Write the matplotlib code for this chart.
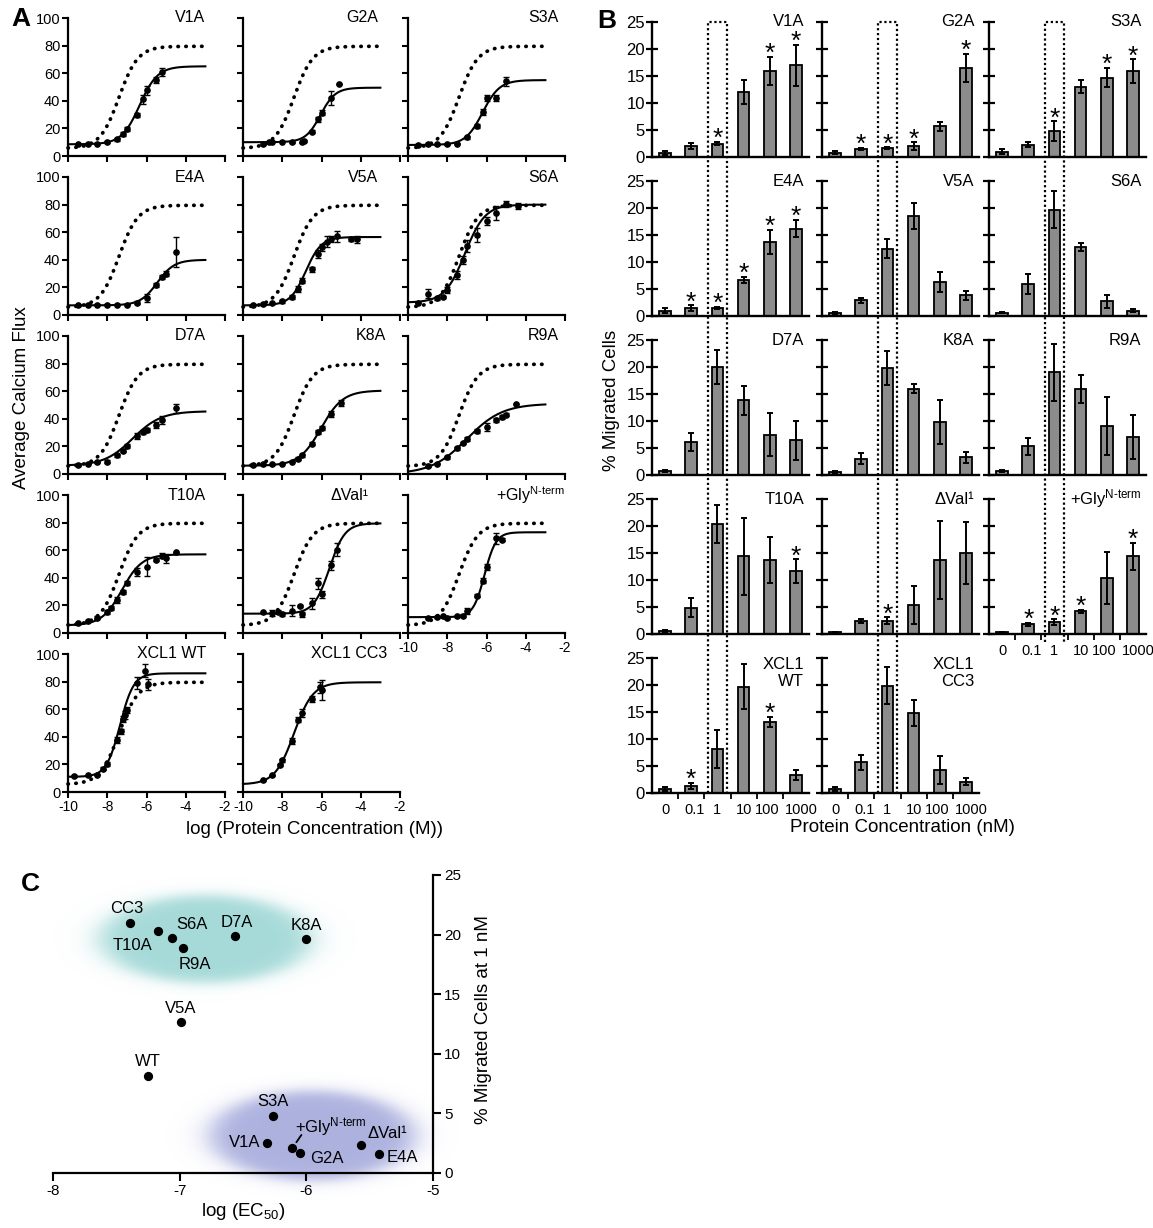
import numpy as np
import matplotlib
matplotlib.use("Agg")
import matplotlib.pyplot as plt
from matplotlib.lines import Line2D

plt.rcParams['font.family'] = ['Liberation Sans', 'DejaVu Sans']
plt.rcParams['mathtext.fontset'] = 'custom'
plt.rcParams['mathtext.rm'] = 'Liberation Sans'
plt.rcParams['mathtext.it'] = 'Liberation Sans:italic'
plt.rcParams['mathtext.bf'] = 'Liberation Sans:bold'
plt.rcParams['axes.unicode_minus'] = False

# ======================= DATA =======================
# ---- Panel A: calcium flux, log[M] vs average flux (points + 4PL fit params) ----
# fit params: [bottom, top, logEC50, hill]
ref_fit = [5.5, 79.5, -7.4, 0.9]          # dotted XCL1 WT reference curve

v1a_logc = [-9.5, -9.0, -8.5, -8.0, -7.5, -7.2, -7.0, -6.5, -6.2, -6.0, -5.5, -5.2]
v1a_flux = [8.5, 9, 9, 10, 12, 16, 19.5, 29.5, 41, 47.5, 55, 61]
v1a_sem = [0.5, 0.5, 0.5, 0.8, 1, 1.5, 1.5, 1.5, 3, 3, 2, 3]
v1a_fit = [8.5, 65, -6.35, 0.95]

g2a_logc = [-9.0, -8.7, -8.5, -8.0, -7.5, -7.0, -6.9, -6.5, -6.2, -6.0, -5.5, -5.1]
g2a_flux = [9, 10, 10.5, 10.5, 10, 10, 11, 17.5, 26.5, 31.5, 42, 52]
g2a_sem = [1, 0.5, 0.5, 0.5, 0.5, 0.5, 0.5, 1, 1.5, 1.5, 5, 0]
g2a_fit = [10, 49.5, -6.05, 1.15]

s3a_logc = [-9.5, -9.0, -8.5, -8.0, -7.5, -7.0, -6.5, -6.2, -6.0, -5.5, -5.0]
s3a_flux = [8, 9, 8.5, 8.5, 9, 13.5, 21.5, 32, 42, 42, 54]
s3a_sem = [0.5, 0.5, 0.5, 0.5, 0.5, 1, 1.5, 2, 2.5, 2, 3]
s3a_fit = [8, 55, -6.2, 1.0]

e4a_logc = [-9.5, -9.0, -8.5, -8.0, -7.5, -7.0, -6.5, -6.0, -5.5, -5.2, -5.0, -4.5]
e4a_flux = [7, 7.5, 7.5, 7.5, 7.5, 7.5, 9, 12.5, 21.5, 27.5, 30, 45.5]
e4a_sem = [0.5, 0.5, 0.5, 0.5, 0.5, 0.5, 1, 3, 1.5, 1.5, 2, 11]
e4a_fit = [7, 40, -5.45, 1.0]

v5a_logc = [-9.5, -9.0, -8.5, -8.0, -7.5, -7.2, -7.0, -6.5, -6.2, -6.0, -5.7, -5.5, -5.2, -4.5, -4.2]
v5a_flux = [7.5, 8, 8.5, 10, 13, 19, 25, 33, 44, 49, 53, 55, 57, 55, 55]
v5a_sem = [0.5, 0.5, 0.5, 1, 1.5, 2, 2, 2, 3, 2.5, 4, 2, 4, 1.5, 2.5]
v5a_fit = [7, 56.5, -6.8, 1.1]

s6a_logc = [-9.5, -9.0, -8.5, -8.2, -8.0, -7.5, -7.2, -7.0, -6.5, -6.0, -5.5, -5.0, -4.4]
s6a_flux = [9, 15.5, 12, 13, 18, 29, 40, 50, 58, 68, 74, 80.5, 79]
s6a_sem = [0.5, 3, 1, 1, 2, 3, 3, 4, 5, 3, 5, 2, 2.5]
s6a_fit = [9, 80, -7.1, 0.85]

d7a_logc = [-9.5, -9.0, -8.5, -8.0, -7.5, -7.2, -7.0, -6.5, -6.2, -6.0, -5.5, -5.2, -4.5]
d7a_flux = [6.5, 7.5, 8.5, 9, 13.5, 17, 20, 27.5, 30.5, 32, 35.5, 39, 47.5]
d7a_sem = [0.5, 0.5, 0.5, 1, 1, 1, 1.5, 2, 1.5, 1.5, 2, 3, 3.5]
d7a_fit = [6, 45.5, -6.7, 0.6]

k8a_logc = [-9.5, -9.0, -8.5, -8.0, -7.5, -7.2, -7.0, -6.5, -6.2, -6.0, -5.5, -5.0]
k8a_flux = [6.5, 7, 7, 7.5, 9, 11, 13.5, 22, 30.5, 33.5, 43.5, 51.5]
k8a_sem = [0.5, 0.5, 0.5, 0.5, 0.5, 1, 1, 1, 1.5, 1.5, 2, 2]
k8a_fit = [6, 60.5, -6.02, 0.78]

r9a_logc = [-9.0, -8.5, -8.0, -7.5, -7.2, -7.0, -6.5, -6.0, -5.5, -5.2, -5.0, -4.5]
r9a_flux = [6, 7.5, 12, 18.5, 22.5, 25.5, 31, 34, 39, 41.5, 43, 51]
r9a_sem = [1, 0.5, 1, 1, 1, 1.5, 1.5, 3, 1.5, 1.5, 1, 0]
r9a_fit = [0, 51, -7.0, 0.48]

t10a_logc = [-9.5, -9.0, -8.5, -8.0, -7.8, -7.5, -7.2, -7.0, -6.5, -6.0, -5.5, -5.2, -5.0, -4.5]
t10a_flux = [7, 9, 11, 15, 18, 24, 30, 36, 44, 48, 53, 56, 54, 58.5]
t10a_sem = [0.5, 0.5, 1, 1.5, 1.5, 2, 1.5, 1.5, 3, 7, 1, 2, 3, 0.5]
t10a_fit = [5.5, 57, -7.25, 0.85]

dval_logc = [-9.0, -8.5, -8.2, -8.0, -7.5, -7.1, -7.0, -6.5, -6.2, -6.0, -5.5, -5.2]
dval_flux = [15, 14.5, 15.5, 14, 16, 19.5, 13.5, 21.5, 36, 28, 49, 60.5]
dval_sem = [0.5, 2, 1, 1.5, 4, 0.5, 2, 4, 4, 2.5, 3, 5]
dval_fit = [14, 79.5, -5.6, 1.1]

gly_logc = [-9.0, -8.5, -8.2, -8.0, -7.5, -7.2, -7.0, -6.5, -6.2, -6.0, -5.5, -5.2]
gly_flux = [11, 11.5, 12, 11, 12, 12.5, 16, 27, 38, 48, 68.5, 67.5]
gly_sem = [0.5, 0.5, 0.5, 0.5, 0.5, 1, 2, 1, 2, 2, 4, 1]
gly_fit = [11.5, 73, -6.1, 1.5]

wt_logc = [-9.7, -9.0, -8.5, -8.2, -8.0, -7.5, -7.3, -7.2, -7.1, -7.0, -6.5, -6.1, -5.9]
wt_flux = [11.5, 12, 12.5, 17, 20, 37.5, 44, 53, 56, 59.5, 79, 88, 78]
wt_sem = [0.5, 0.5, 0.5, 1, 1.5, 2, 2, 2, 3, 2, 4, 5, 4]
wt_fit = [11, 86, -7.35, 1.25]

cc3_logc = [-9.0, -8.5, -8.1, -8.0, -7.5, -7.2, -7.0, -6.5, -6.1, -6.0]
cc3_flux = [8.5, 12, 19.5, 23, 37, 52.5, 57, 67.5, 76, 74]
cc3_sem = [0.5, 0.5, 1, 1, 2, 2, 3, 2, 4, 7]
cc3_fit = [5.5, 79.5, -7.4, 0.9]

# ---- Panel B: % migrated cells per concentration (nM) ----
b_conc_labels = ['0', '0.1', '1', '10', '100', '1000']
v1a_mig = [0.8, 2.0, 2.5, 12.0, 16.0, 17.0]
v1a_mig_err = [0.4, 0.6, 0.3, 2.2, 2.6, 3.8]
v1a_star = [2, 4, 5]
g2a_mig = [0.8, 1.5, 1.6, 2.0, 5.7, 16.5]
g2a_mig_err = [0.3, 0.2, 0.2, 0.7, 0.8, 2.6]
g2a_star = [1, 2, 3, 5]
s3a_mig = [1.0, 2.3, 4.8, 13.0, 14.7, 15.9]
s3a_mig_err = [0.4, 0.4, 1.8, 1.2, 1.8, 2.2]
s3a_star = [2, 4, 5]
e4a_mig = [1.0, 1.5, 1.5, 6.7, 13.7, 16.2]
e4a_mig_err = [0.5, 0.5, 0.2, 0.5, 2.2, 1.6]
e4a_star = [1, 2, 3, 4, 5]
v5a_mig = [0.6, 2.9, 12.5, 18.5, 6.3, 3.8]
v5a_mig_err = [0.2, 0.5, 1.7, 2.4, 1.9, 0.8]
v5a_star = []
s6a_mig = [0.6, 5.9, 19.7, 12.8, 2.7, 1.0]
s6a_mig_err = [0.1, 1.8, 3.4, 0.8, 1.2, 0.3]
s6a_star = []
d7a_mig = [0.8, 6.1, 20.0, 13.8, 7.5, 6.4]
d7a_mig_err = [0.2, 1.7, 3.2, 2.7, 3.9, 3.6]
d7a_star = []
k8a_mig = [0.6, 3.0, 19.8, 16.0, 9.8, 3.3]
k8a_mig_err = [0.2, 1.0, 3.2, 0.8, 4.0, 1.0]
k8a_star = []
r9a_mig = [0.7, 5.3, 19.0, 16.0, 9.1, 7.0]
r9a_mig_err = [0.2, 1.6, 5.3, 2.6, 5.4, 4.1]
r9a_star = []
t10a_mig = [0.5, 4.9, 20.3, 14.4, 13.7, 11.6]
t10a_mig_err = [0.2, 1.8, 3.5, 7.1, 4.2, 2.2]
t10a_star = [5]
dval_mig = [0.3, 2.4, 2.5, 5.4, 13.7, 15.0]
dval_mig_err = [0.1, 0.3, 0.6, 3.5, 7.2, 5.8]
dval_star = [2]
gly_mig = [0.3, 1.8, 2.2, 4.2, 10.4, 14.4]
gly_mig_err = [0.1, 0.3, 0.5, 0.3, 4.8, 2.5]
gly_star = [1, 2, 3, 5]
wt_mig = [0.8, 1.3, 8.2, 19.7, 13.2, 3.3]
wt_mig_err = [0.4, 0.6, 3.5, 4.1, 0.9, 0.9]
wt_star = [1, 4]
cc3_mig = [0.7, 5.7, 19.9, 14.8, 4.3, 2.1]
cc3_mig_err = [0.4, 1.4, 3.5, 2.4, 2.6, 0.6]
cc3_star = []

# ---- Panel C: logEC50 vs % migrated at 1 nM ----
c_labels = ['CC3', 'T10A', 'S6A', 'R9A', 'D7A', 'K8A', 'V5A', 'WT', 'S3A', 'V1A',
            '+Gly$^{\\text{N-term}}$', 'G2A', 'ΔVal¹', 'E4A']
c_logec50 = [-7.395, -7.17, -7.06, -6.97, -6.56, -6.0, -6.99, -7.25, -6.26, -6.31,
             -6.11, -6.05, -5.57, -5.43]
c_migrated = [21.0, 20.3, 19.75, 18.9, 19.9, 19.6, 12.65, 8.1, 4.75, 2.54,
              2.1, 1.7, 2.37, 1.56]

# ======================= FIGURE =======================
W, H = 1153, 1228
fig = plt.figure(figsize=(W / 100, H / 100), dpi=100)


def add_px_axes(x0, y0, w, h):
    return fig.add_axes([x0 / W, 1 - (y0 + h) / H, w / W, h / H])


def four_pl(x, p):
    b, t, ec, h = p
    return b + (t - b) / (1 + 10 ** (h * (ec - x)))


def style(ax, lw=1.6):
    for s in ['top', 'right']:
        ax.spines[s].set_visible(False)
    for s in ['left', 'bottom']:
        ax.spines[s].set_linewidth(lw)


# ---------------- Panel A ----------------
a_names = ['V1A', 'G2A', 'S3A', 'E4A', 'V5A', 'S6A', 'D7A', 'K8A', 'R9A',
           'T10A', 'ΔVal¹', '+Gly$^{\\text{N-term}}$', 'XCL1 WT', 'XCL1 CC3']
a_data = [(v1a_logc, v1a_flux, v1a_sem, v1a_fit), (g2a_logc, g2a_flux, g2a_sem, g2a_fit),
          (s3a_logc, s3a_flux, s3a_sem, s3a_fit), (e4a_logc, e4a_flux, e4a_sem, e4a_fit),
          (v5a_logc, v5a_flux, v5a_sem, v5a_fit), (s6a_logc, s6a_flux, s6a_sem, s6a_fit),
          (d7a_logc, d7a_flux, d7a_sem, d7a_fit), (k8a_logc, k8a_flux, k8a_sem, k8a_fit),
          (r9a_logc, r9a_flux, r9a_sem, r9a_fit), (t10a_logc, t10a_flux, t10a_sem, t10a_fit),
          (dval_logc, dval_flux, dval_sem, dval_fit), (gly_logc, gly_flux, gly_sem, gly_fit),
          (wt_logc, wt_flux, wt_sem, wt_fit), (cc3_logc, cc3_flux, cc3_sem, cc3_fit)]
a_show_ref = [True] * 13 + [False]
a_title_x = [0.875, 0.86, 0.96, 0.875, 0.86, 0.96, 0.875, 0.91, 0.96,
             0.875, 0.80, 1.0, 0.88, 0.92]
a_left = [68, 243, 408]
a_top = [18, 177, 336, 495, 654]
a_w, a_h = 157, 138
a_xlabel_idx = [11, 12, 13]

xc = np.linspace(-10, -3, 300)
for i, (name, (lx, fy, se, fit)) in enumerate(zip(a_names, a_data)):
    r, c = divmod(i, 3)
    ax = add_px_axes(a_left[c], a_top[r], a_w, a_h)
    style(ax)
    ax.set_xlim(-10, -2)
    ax.set_ylim(0, 100)
    if a_show_ref[i]:
        ax.plot(xc, four_pl(xc, ref_fit), color='k', lw=2.7, linestyle=(0, (0.1, 2.0)),
                dash_capstyle='round', zorder=2, clip_on=False)
    ax.plot(xc, four_pl(xc, fit), color='k', lw=1.5, zorder=3, clip_on=False)
    ax.errorbar(lx, fy, yerr=se, fmt='o', color='k', ms=3.8, elinewidth=1.0,
                capsize=2.2, capthick=1.0, zorder=4, clip_on=False)
    ax.set_xticks([-10, -8, -6, -4, -2])
    ax.set_yticks([0, 20, 40, 60, 80, 100])
    ax.tick_params(direction='out', length=4, width=1.5, labelsize=10.5, pad=1.5)
    ax.tick_params(axis='x', labelsize=10)
    if i not in a_xlabel_idx:
        ax.set_xticklabels([])
    if c != 0:
        ax.set_yticklabels([])
    ax.text(a_title_x[i], 1.0, name, transform=ax.transAxes, ha='right', va='center',
            fontsize=11.5)

# ---------------- Panel B ----------------
b_names = ['V1A', 'G2A', 'S3A', 'E4A', 'V5A', 'S6A', 'D7A', 'K8A', 'R9A',
           'T10A', 'ΔVal¹', '+Gly$^{\\text{N-term}}$', 'XCL1\nWT', 'XCL1\nCC3']
b_data = [(v1a_mig, v1a_mig_err, v1a_star), (g2a_mig, g2a_mig_err, g2a_star),
          (s3a_mig, s3a_mig_err, s3a_star), (e4a_mig, e4a_mig_err, e4a_star),
          (v5a_mig, v5a_mig_err, v5a_star), (s6a_mig, s6a_mig_err, s6a_star),
          (d7a_mig, d7a_mig_err, d7a_star), (k8a_mig, k8a_mig_err, k8a_star),
          (r9a_mig, r9a_mig_err, r9a_star), (t10a_mig, t10a_mig_err, t10a_star),
          (dval_mig, dval_mig_err, dval_star), (gly_mig, gly_mig_err, gly_star),
          (wt_mig, wt_mig_err, wt_star), (cc3_mig, cc3_mig_err, cc3_star)]
b_left = [652, 822, 989]
b_top = [22, 181, 340, 499, 658]
b_w, b_h = 157, 135
b_xlabel_idx = [11, 12, 13]
b_label_shift = [0, 0.12, 0, 0, -0.1, 0.2]   # small nudges of tick labels (layout)
pos = np.arange(len(b_conc_labels))
col_bottom = {}
for i, (name, (vals, errs, stars)) in enumerate(zip(b_names, b_data)):
    r, c = divmod(i, 3)
    ax = add_px_axes(b_left[c], b_top[r], b_w, b_h)
    style(ax, 1.7)
    ax.set_xlim(-0.5, 5.5)
    ax.set_ylim(0, 25)
    ax.bar(pos, vals, width=0.45, color='#8c8c8c', edgecolor='k', linewidth=1.3, zorder=2)
    ax.errorbar(pos, vals, yerr=errs, fmt='none', ecolor='k', elinewidth=1.4,
                capsize=2.0, capthick=1.4, zorder=3)
    for s in stars:
        ax.annotate('*', (pos[s], vals[s] + errs[s]), xytext=(0, -3),
                    textcoords='offset points', ha='center', va='baseline', fontsize=19)
    ax.set_yticks([0, 5, 10, 15, 20, 25])
    ax.tick_params(axis='y', direction='inout', length=8, width=1.6, labelsize=12, pad=1)
    if c != 0:
        ax.set_yticklabels([])
    if i in b_xlabel_idx:
        ax.set_xticks(pos + np.array(b_label_shift))
        ax.set_xticklabels(b_conc_labels)
        ax.set_xticks(pos[:-1] + 0.5, minor=True)
        ax.tick_params(axis='x', which='major', length=0, labelsize=10.5, pad=7)
        ax.tick_params(axis='x', which='minor', direction='out', length=4, width=1.3)
    else:
        ax.set_xticks([])
    if '\n' in name:
        ax.text(0.97, 1.01, name, transform=ax.transAxes, ha='right', va='top',
                fontsize=12, linespacing=1.2)
    else:
        ax.text(0.97, 1.0, name, transform=ax.transAxes, ha='right', va='center',
                fontsize=12)
    col_bottom[c] = b_top[r] + b_h

# dotted box around the 1 nM bars
for c in range(3):
    x0 = b_left[c] + (2 - 0.37 + 0.5) / 6 * b_w
    x1 = b_left[c] + (2 + 0.37 + 0.5) / 6 * b_w
    ytop = b_top[0]
    ybot = col_bottom[c] + (8 if c == 2 else 0)
    fig.add_artist(Line2D([x0 / W, x0 / W, x1 / W, x1 / W],
                          [1 - ybot / H, 1 - ytop / H, 1 - ytop / H, 1 - ybot / H],
                          transform=fig.transFigure, color='k', lw=1.6,
                          linestyle=(0, (1, 1.2)), zorder=10))

# ---------------- Panel C ----------------
axc = add_px_axes(53, 875, 380, 298)
axc.set_xlim(-8, -5)
axc.set_ylim(0, 25)
axc.spines['top'].set_visible(False)
axc.spines['left'].set_visible(False)
axc.spines['right'].set_linewidth(1.6)
axc.spines['bottom'].set_linewidth(1.6)
axc.yaxis.tick_right()
axc.set_xticks([-8, -7, -6, -5])
axc.set_yticks([0, 5, 10, 15, 20, 25])
axc.tick_params(direction='out', length=6, width=1.5, labelsize=11, pad=2)


def glow(ax, cx, cy, rx, ry, rgb, amax):
    gx = np.linspace(cx - rx * 1.3, cx + rx * 1.3, 260)
    gy = np.linspace(cy - ry * 1.3, cy + ry * 1.3, 200)
    X, Y = np.meshgrid(gx, gy)
    rr = np.sqrt(((X - cx) / rx) ** 2 + ((Y - cy) / ry) ** 2)
    a = amax / (1 + np.exp((rr - 0.85) / 0.07))
    img = np.zeros(X.shape + (4,))
    img[..., 0], img[..., 1], img[..., 2] = rgb
    img[..., 3] = a
    im = ax.imshow(img, extent=(gx[0], gx[-1], gy[0], gy[-1]), origin='lower',
                   aspect='auto', zorder=0, interpolation='bilinear')
    im.set_clip_on(False)


glow(axc, -6.8, 19.6, 0.98, 4.3, (0.63, 0.85, 0.84), 0.95)
glow(axc, -5.95, 3.15, 0.95, 4.4, (0.66, 0.68, 0.87), 0.95)
axc.set_xlim(-8, -5)
axc.set_ylim(0, 25)
axc.scatter(c_logec50, c_migrated, s=32, color='k', zorder=3, clip_on=False)

# label placement (pixel offsets from each point) -- layout only
c_offsets = {
    'CC3': (-3, 14, 'center'), 'T10A': (-6, -14, 'right'), 'S6A': (4, 13, 'left'),
    'R9A': (-5, -17, 'left'), 'D7A': (1, 13, 'center'), 'K8A': (0, 14, 'center'),
    'V5A': (0, 14, 'center'), 'WT': (0, 15, 'center'), 'S3A': (0, 15, 'center'),
    'V1A': (-7, 0, 'right'), 'G2A': (10, -6, 'left'), 'ΔVal¹': (7, 11, 'left'),
    'E4A': (8, -3, 'left'),
}
for lab, x, y in zip(c_labels, c_logec50, c_migrated):
    if lab.startswith('+Gly'):
        axc.annotate('', (x, y), xytext=(9, 13), textcoords='offset pixels',
                     arrowprops=dict(arrowstyle='-', lw=1.3, shrinkA=0, shrinkB=5))
        axc.annotate(lab, (x, y), xytext=(3, 16), textcoords='offset pixels',
                     ha='left', va='baseline', fontsize=12)
    else:
        dx, dy, ha = c_offsets[lab]
        axc.annotate(lab, (x, y), xytext=(dx, dy), textcoords='offset pixels',
                     ha=ha, va='center', fontsize=12)

# ---------------- labels ----------------
fig.text(22 / W, 1 - 398 / H, 'Average Calcium Flux', rotation=90, ha='center',
         va='center', fontsize=13.5)
fig.text(611 / W, 1 - 400 / H, '% Migrated Cells', rotation=90, ha='center',
         va='center', fontsize=13.5)
fig.text(315 / W, 1 - 829 / H, 'log (Protein Concentration (M))', ha='center',
         va='center', fontsize=13.5)
fig.text(902 / W, 1 - 828 / H, 'Protein Concentration (nM)', ha='center',
         va='center', fontsize=13.5)
fig.text(243 / W, 1 - 1212 / H, 'log (EC$_{50}$)', ha='center', va='center', fontsize=13.5)
fig.text(483 / W, 1 - 1020 / H, '% Migrated Cells at 1 nM', rotation=90, ha='center',
         va='center', fontsize=13.5)
for letter, (px, py) in {'A': (21, 19), 'B': (607, 21), 'C': (30, 884)}.items():
    fig.text(px / W, 1 - py / H, letter, ha='center', va='center', fontsize=19,
             fontweight='bold')

fig.savefig('out.png', dpi=100)
